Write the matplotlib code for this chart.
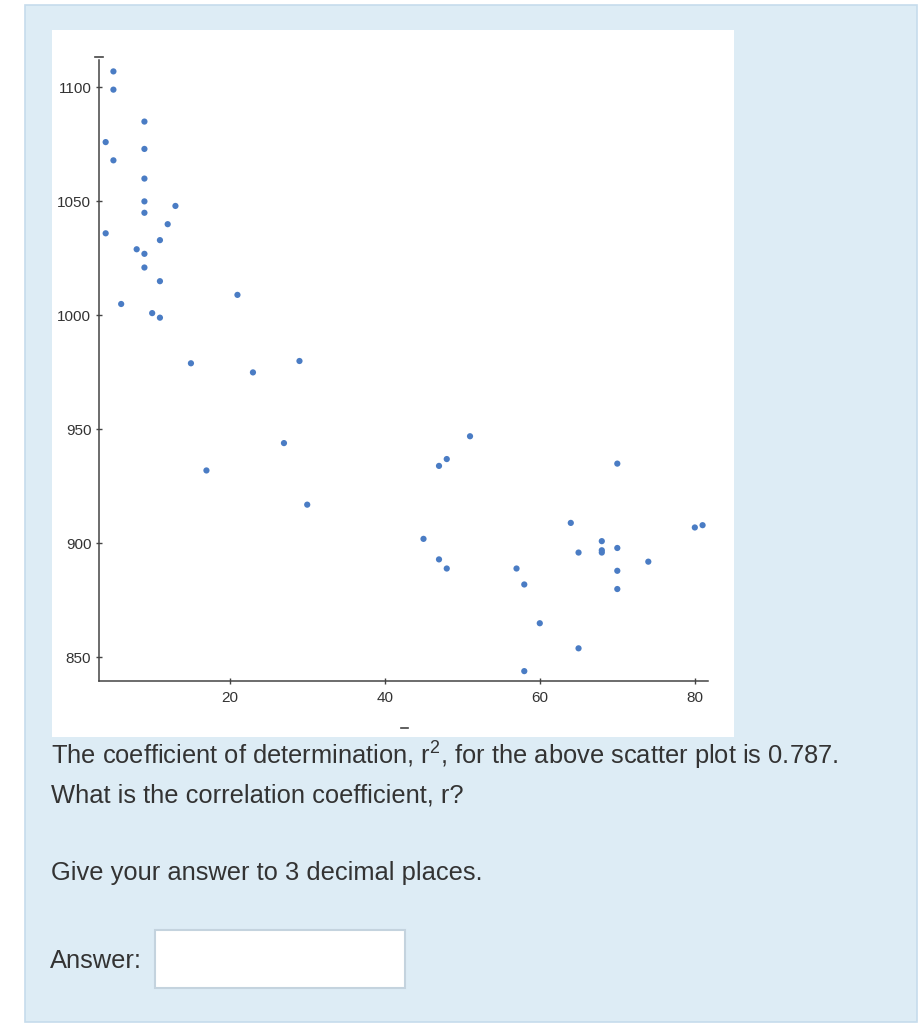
import matplotlib
matplotlib.use("Agg")
import matplotlib.pyplot as plt
from matplotlib import font_manager
from matplotlib.patches import Rectangle

plt.rcParams['font.family'] = ['Liberation Sans', 'DejaVu Sans']
plt.rcParams['mathtext.fontset'] = 'custom'
plt.rcParams['mathtext.rm'] = 'Liberation Sans'

# data
x = [5, 5, 9, 4, 9, 5, 9, 9, 13, 9, 12, 4, 11, 8, 9, 9, 11, 21, 6, 10, 11,
     15, 29, 23, 27, 17, 30,
     51, 48, 47, 70, 64, 80, 81, 45, 68, 68, 68, 70, 65, 47, 48, 57, 74, 70,
     58, 70, 60, 65, 58]
y = [1107, 1099, 1085, 1076, 1073, 1068, 1060, 1050, 1048, 1045, 1040, 1036,
     1033, 1029, 1027, 1021, 1015, 1009, 1005, 1001, 999,
     979, 980, 975, 944, 932, 917,
     947, 937, 934, 935, 909, 907, 908, 902, 901, 897, 896, 898, 896, 893,
     889, 889, 892, 888, 882, 880, 865, 854, 844]
x_ticks = [20, 40, 60, 80]
y_ticks = [850, 900, 950, 1000, 1050, 1100]

# narrow font for tick numbers if it is there
try:
    font_manager.findfont('Liberation Sans Narrow', fallback_to_default=False)
    tick_font, tick_size = 'Liberation Sans Narrow', 12.5
except Exception:
    tick_font, tick_size = 'Liberation Sans', 11

W, H = 920, 1024
fig = plt.figure(figsize=(W / 100, H / 100), dpi=100)
fig.patch.set_facecolor('white')

# page background drawn in pixel coordinates
bg = fig.add_axes([0, 0, 1, 1], zorder=0)
bg.set_xlim(0, W)
bg.set_ylim(H, 0)
bg.axis('off')
bg.add_patch(Rectangle((25, 5), 892, 1017, facecolor='#ddecf5', edgecolor='#c6dcec', lw=1.2))
bg.add_patch(Rectangle((52, 30), 682, 707, facecolor='white', edgecolor='none'))
bg.add_patch(Rectangle((155, 930), 250, 58, facecolor='white', edgecolor='#c4d3de', lw=1.5))
bg.plot([401, 408], [728, 728], color='#444444', lw=1.2)

txt = dict(color='#333333', fontsize=18.4, va='baseline', ha='left')
bg.text(51, 764, r'The coefficient of determination, r$^{\mathrm{2}}$, for the above scatter plot is 0.787.', **txt)
bg.text(51, 803, 'What is the correlation coefficient, r?', **txt)
bg.text(51, 880, 'Give your answer to 3 decimal places.', **txt)
bg.text(50, 968, 'Answer:', **txt)

# scatter axes
ax = fig.add_axes([99 / W, 1 - 680.7 / H, 609 / W, 620.7 / H], zorder=1)
ax.patch.set_alpha(0)
ax.scatter(x, y, s=20, color='#4a7cc4', edgecolors='none', clip_on=False)
ax.set_xlim(3.14, 81.7)
ax.set_ylim(839.8, 1112)
ax.set_xticks(x_ticks)
ax.set_yticks(y_ticks)
for s in ['top', 'right']:
    ax.spines[s].set_visible(False)
for s in ['left', 'bottom']:
    ax.spines[s].set_color('#444444')
    ax.spines[s].set_linewidth(1.1)
ax.tick_params(direction='inout', length=5, width=1, color='#444444',
               labelsize=tick_size, labelcolor='#333333', pad=3)
ax.tick_params(axis='x', pad=5)
for lab in ax.get_xticklabels() + ax.get_yticklabels():
    lab.set_family([tick_font, 'DejaVu Sans'])
ax.plot([-0.007, 0.007], [1.005, 1.005], transform=ax.transAxes, color='#444444',
        lw=1.2, clip_on=False)

fig.savefig('out.png', dpi=100)
